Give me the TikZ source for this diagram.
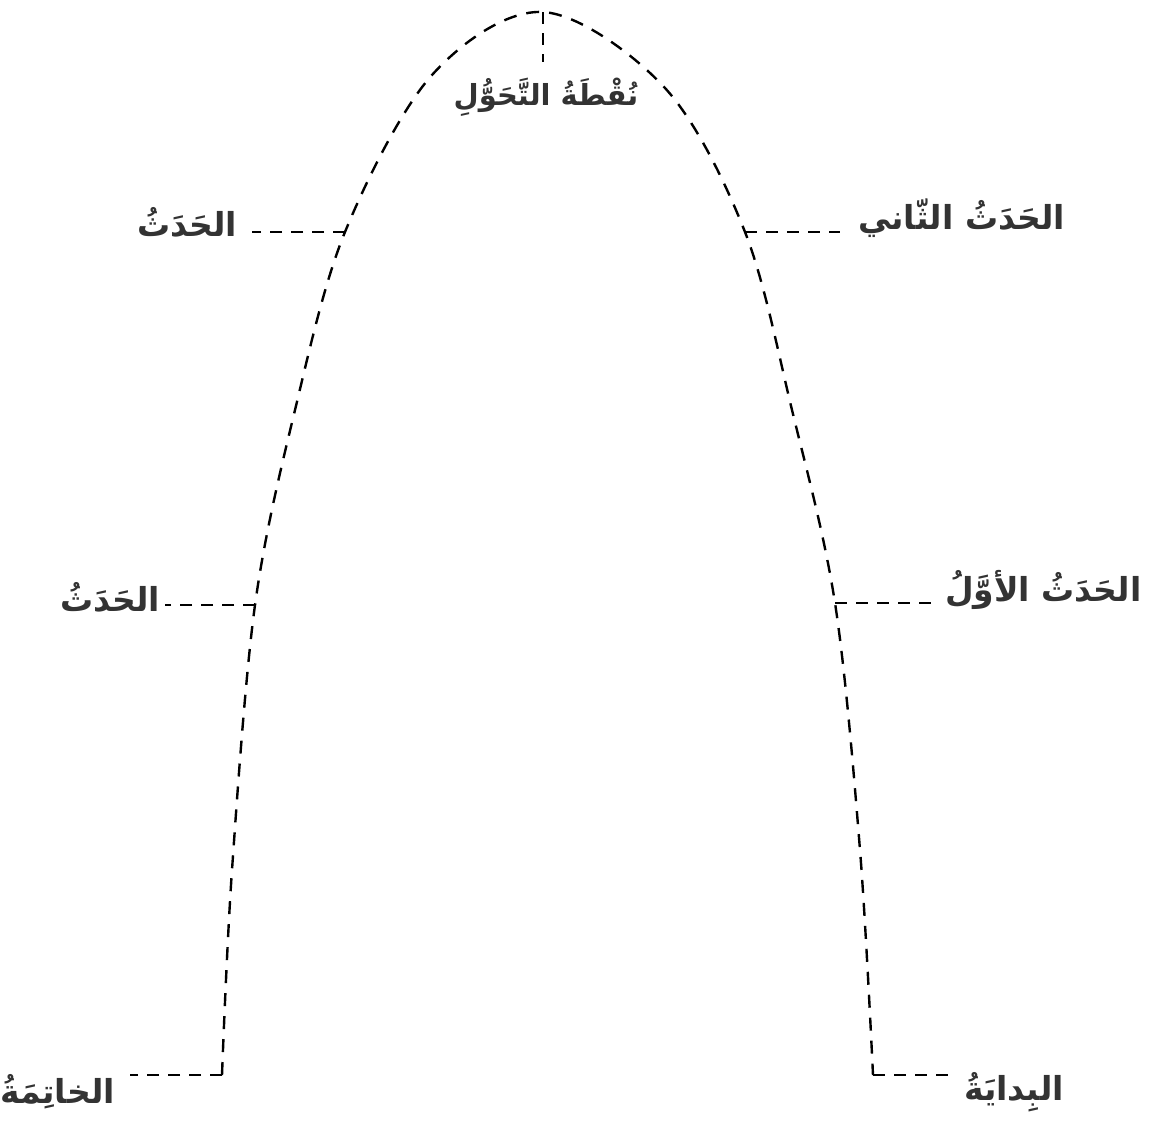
\documentclass[tikz,border=0pt]{standalone}
\usepackage{fontspec}
\TeXXeTstate=1
\newfontfamily\arabicbold[Script=Arabic]{DejaVu Sans Bold}
\begin{document}
\begin{tikzpicture}[x=1pt,y=-1pt,
  arch/.style={line width=2.4pt, dash pattern=on 13pt off 10pt},
  lead/.style={line width=2.4pt, dash pattern=on 12pt off 9pt},
  lbl/.style={font=\arabicbold\fontsize{33}{38}\selectfont, inner sep=0pt, text=black!80}]
\useasboundingbox (0,0) rectangle (1157,1120);
% points on the arch
\coordinate (lb) at (222,1075);
\coordinate (l1) at (232,870);
\coordinate (lm) at (255,605);
\coordinate (l2) at (295,410);
\coordinate (lu) at (345,232);
\coordinate (l3) at (432,75);
\coordinate (top) at (543,12);
\coordinate (r3) at (665,88);
\coordinate (ru) at (745,232);
\coordinate (r2) at (792,410);
\coordinate (rm) at (835,603);
\coordinate (r1) at (860,850);
\coordinate (rb) at (873,1075);
\draw[arch] plot[smooth, tension=0.55] coordinates {(lb) (l1) (lm) (l2) (lu) (l3) (top) (r3) (ru) (r2) (rm) (r1) (rb)};
% labels
\node[lbl, font=\arabicbold\fontsize{29}{34}\selectfont] (tp) at (546,97) {\beginR نُقْطَةُ التَّحَوُّلِ\endR};
\node[lbl, anchor=east] (lul) at (237,222) {\beginR الحَدَثُ\endR};
\node[lbl, anchor=west] (rul) at (858,218) {\beginR الحَدَثُ الثّاني\endR};
\node[lbl, anchor=east] (lml) at (160,597) {\beginR الحَدَثُ\endR};
\node[lbl, anchor=west] (rml) at (945,590) {\beginR الحَدَثُ الأوَّلُ\endR};
\node[lbl, anchor=east] (lbl1) at (115,1092) {\beginR الخاتِمَةُ\endR};
\node[lbl, anchor=west] (rbl) at (964,1092) {\beginR البِدايَةُ\endR};
% leader lines
\coordinate (tpe) at (543,62);
\draw[lead] (top) -- (tpe);
\coordinate (lue) at (252,232);
\draw[lead] (lu) -- (lue);
\coordinate (rue) at (840,232);
\draw[lead] (ru) -- (rue);
\coordinate (lme) at (165,605);
\draw[lead] (lm) -- (lme);
\coordinate (rme) at (932,603);
\draw[lead] (rm) -- (rme);
\coordinate (lbe) at (130,1075);
\draw[lead] (lb) -- (lbe);
\coordinate (rbe) at (950,1075);
\draw[lead] (rb) -- (rbe);
\end{tikzpicture}
\end{document}
